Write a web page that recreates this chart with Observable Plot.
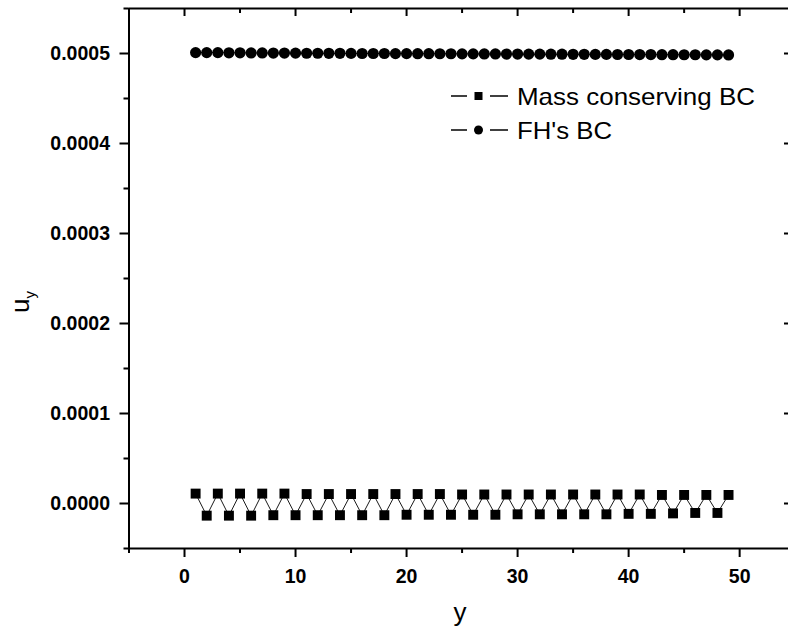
<!DOCTYPE html>
<html>
<head>
<meta charset="utf-8">
<script src="https://cdn.jsdelivr.net/npm/d3@7"></script>
<script src="https://cdn.jsdelivr.net/npm/@observablehq/plot@0.6"></script>
<style>
  html, body { margin: 0; padding: 0; background: #fff; }
  #chart { width: 788px; height: 633px; overflow: hidden; }
</style>
</head>
<body>
<div id="chart"></div>
<script>
// ---- data ----
const positions = [1,2,3,4,5,6,7,8,9,10,11,12,13,14,15,16,17,18,19,20,21,22,23,24,25,
                   26,27,28,29,30,31,32,33,34,35,36,37,38,39,40,41,42,43,44,45,46,47,48,49];
const massConserving = [
  1.10e-5,-1.35e-5, 1.10e-5,-1.35e-5, 1.10e-5,-1.35e-5, 1.10e-5,-1.30e-5, 1.10e-5,-1.30e-5,
  1.05e-5,-1.30e-5, 1.05e-5,-1.30e-5, 1.05e-5,-1.30e-5, 1.05e-5,-1.30e-5, 1.05e-5,-1.25e-5,
  1.05e-5,-1.25e-5, 1.05e-5,-1.25e-5, 1.00e-5,-1.25e-5, 1.00e-5,-1.25e-5, 1.00e-5,-1.20e-5,
  1.00e-5,-1.20e-5, 1.00e-5,-1.20e-5, 1.00e-5,-1.20e-5, 1.00e-5,-1.20e-5, 1.00e-5,-1.15e-5,
  1.00e-5,-1.15e-5, 0.95e-5,-1.10e-5, 0.95e-5,-1.05e-5, 0.95e-5,-1.05e-5, 0.95e-5
];
const fhBC = [
  0.000501,0.000501,0.000501,0.0005008,0.0005008,0.0005006,0.0005006,0.0005005,0.0005005,0.0005004,
  0.0005003,0.0005003,0.0005002,0.0005002,0.0005001,0.0005,0.0005,0.0005,0.0004999,0.0004999,
  0.0004998,0.0004998,0.0004997,0.0004997,0.0004996,0.0004996,0.0004995,0.0004995,0.0004994,0.0004994,
  0.0004993,0.0004993,0.0004992,0.0004992,0.0004991,0.0004991,0.000499,0.000499,0.0004989,0.0004989,
  0.0004988,0.0004988,0.0004987,0.0004987,0.0004986,0.0004986,0.0004985,0.0004985,0.0004984
];
const xMajorTicks = [0, 10, 20, 30, 40, 50];
const xMinorTicks = [-5, 5, 15, 25, 35, 45];
const yMajorTicks = [0, 0.0001, 0.0002, 0.0003, 0.0004, 0.0005];
const yMinorTicks = [-0.00005, 0.00005, 0.00015, 0.00025, 0.00035, 0.00045, 0.00055];
const seriesNames = ["Mass conserving BC", "FH's BC"];
const xTitle = "y";

const massData = positions.map((p, i) => ({x: p, v: massConserving[i]}));
const fhData = positions.map((p, i) => ({x: p, v: fhBC[i]}));

const font = "'Liberation Sans', Arial, Helvetica, sans-serif";
const sw = 2;
const W = 788, H = 633, mL = 128.5, mR = 0, mT = 8, mB = 85;
const frameW = W - mL - mR, frameH = H - mT - mB;

const plot = Plot.plot({
  width: W,
  height: H,
  marginLeft: mL,
  marginRight: mR,
  marginTop: mT,
  marginBottom: mB,
  x: {domain: [-5, 54.4]},
  y: {domain: [-0.00005, 0.00055]},
  style: {fontFamily: font, background: "white", color: "black"},
  marks: [
    // series
    Plot.line(massData, {x: "x", y: "v", stroke: "black", strokeWidth: 0.9}),
    Plot.dot(massData, {x: "x", y: "v", symbol: "square", r: 5.6, fill: "black", stroke: "none"}),
    Plot.line(fhData, {x: "x", y: "v", stroke: "black", strokeWidth: 0.9}),
    Plot.dot(fhData, {x: "x", y: "v", symbol: "circle", r: 5.6, fill: "black", stroke: "none"}),
    // frame
    Plot.ruleX([-5], {stroke: "black", strokeWidth: sw}),
    Plot.ruleY([-0.00005], {stroke: "black", strokeWidth: sw}),
    Plot.ruleY([0.00055], {stroke: "black", strokeWidth: sw}),
    // bottom axis
    Plot.axisX({ticks: xMajorTicks, anchor: "bottom", tickSize: 9, tickPadding: 12,
      strokeWidth: sw, fontSize: 19.5, fontWeight: "bold", label: null, tickFormat: d => String(d)}),
    Plot.tickX(xMinorTicks, {x: d => d, insetTop: frameH, insetBottom: -5, stroke: "black", strokeWidth: sw}),
    // left axis
    Plot.axisY({ticks: yMajorTicks, anchor: "left", tickSize: 9, tickPadding: 10,
      strokeWidth: sw, fontSize: 19.5, fontWeight: "bold", label: null, tickFormat: d => d.toFixed(4)}),
    Plot.tickY(yMinorTicks, {y: d => d, insetRight: frameW, insetLeft: -5, stroke: "black", strokeWidth: sw}),
    // top inward ticks
    Plot.tickX(xMajorTicks, {x: d => d, insetBottom: frameH - 8, stroke: "black", strokeWidth: sw}),
    Plot.tickX(xMinorTicks.slice(1), {x: d => d, insetBottom: frameH - 5, stroke: "black", strokeWidth: sw}),
    // right inward ticks (frame itself lies just beyond the image edge)
    Plot.tickY(yMajorTicks, {y: d => d, insetLeft: frameW - 4, stroke: "black", strokeWidth: sw})
  ]
});

document.getElementById("chart").append(plot);

const svg = d3.select(plot);
// axis titles
svg.append("text")
  .attr("x", 460).attr("y", 621)
  .attr("text-anchor", "middle")
  .attr("font-family", font).attr("font-size", 26)
  .attr("fill", "black")
  .text(xTitle);

const yt = svg.append("text")
  .attr("transform", "translate(29,302) rotate(-90)")
  .attr("text-anchor", "middle")
  .attr("font-family", font).attr("font-size", 26)
  .attr("fill", "black");
yt.append("tspan").text("u");
yt.append("tspan").attr("font-size", 15).attr("dy", 6).text("y");

// legend
const legendRows = [
  {y: 96, symbol: "square", name: seriesNames[0], len: 238},
  {y: 130, symbol: "circle", name: seriesNames[1], len: 95}
];
legendRows.forEach(r => {
  const g = svg.append("g");
  g.append("line").attr("x1", 451).attr("x2", 467).attr("y1", r.y).attr("y2", r.y)
    .attr("stroke", "black").attr("stroke-width", 1.5);
  g.append("line").attr("x1", 490).attr("x2", 508).attr("y1", r.y).attr("y2", r.y)
    .attr("stroke", "black").attr("stroke-width", 1.5);
  if (r.symbol === "square") {
    g.append("rect").attr("x", 474.5).attr("y", r.y - 4).attr("width", 8).attr("height", 8).attr("fill", "black");
  } else {
    g.append("circle").attr("cx", 478.5).attr("cy", r.y).attr("r", 4.5).attr("fill", "black");
  }
  g.append("text")
    .attr("x", 517).attr("y", r.y + 8.5)
    .attr("text-anchor", "start")
    .attr("font-family", font).attr("font-size", 24)
    .attr("textLength", r.len).attr("lengthAdjust", "spacingAndGlyphs")
    .attr("fill", "black")
    .text(r.name);
});
</script>
</body>
</html>
